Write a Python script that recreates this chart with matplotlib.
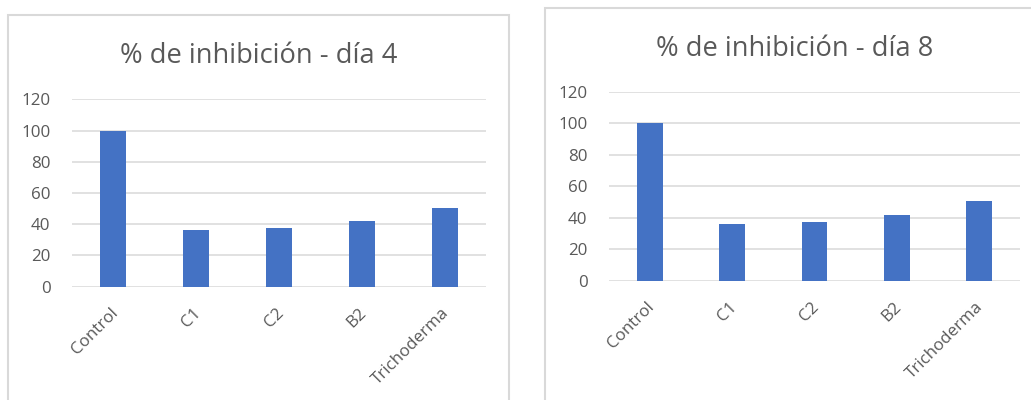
import matplotlib
matplotlib.use("Agg")
import matplotlib.pyplot as plt
from matplotlib.patches import Rectangle
from matplotlib.transforms import ScaledTranslation, blended_transform_factory

# Data
categories = ["Control", "C1", "C2", "B2", "Trichoderma"]
inhibition_day4 = [100, 36.2, 37.3, 41.9, 50.7]
inhibition_day8 = [100, 36.0, 37.2, 41.8, 50.7]
y_ticks = [0, 20, 40, 60, 80, 100, 120]
titles = ["% de inhibición - día 4", "% de inhibición - día 8"]

BAR_COLOR = "#4472C4"
TEXT_COLOR = "#595959"
GRID_COLOR = "#D9D9D9"
FONT = ["Open Sans", "DejaVu Sans"]

W, H = 1031, 400
fig = plt.figure(figsize=(W / 100, H / 100), dpi=100)
fig.patch.set_facecolor("white")


def px_rect(x0, y0, x1, y1):
    """Convert a pixel box (top-left origin) to figure fractions."""
    return [x0 / W, (H - y1) / H, (x1 - x0) / W, (y1 - y0) / H]


def draw_chart(box, axes_box, title_y, values, title):
    bx0, by0, bx1, by1 = box
    fig.patches.append(Rectangle((bx0 / W, (H - by1) / H), (bx1 - bx0) / W, (by1 - by0) / H,
                                 transform=fig.transFigure, fill=False,
                                 edgecolor=GRID_COLOR, linewidth=1.5))
    fig.text((bx0 + bx1) / 2 / W, (H - title_y) / H, title, ha="center", va="baseline",
             fontsize=19.6, color=TEXT_COLOR, family=FONT)

    ax = fig.add_axes(px_rect(*axes_box))
    x = list(range(len(categories)))
    ax.bar(x, values, width=0.313, color=BAR_COLOR, zorder=3)
    ax.set_xlim(-0.5, len(categories) - 0.5)
    ax.set_ylim(0, 120)
    ax.set_yticks(y_ticks)
    ax.set_yticklabels([str(t) for t in y_ticks], fontsize=12.2, color=TEXT_COLOR, family=FONT)
    ax.tick_params(axis="y", length=0, pad=15.5)
    ax.set_xticks([])
    ax.grid(axis="y", color=GRID_COLOR, linewidth=1.1, zorder=0)
    for s in ax.spines.values():
        s.set_visible(False)

    trans = blended_transform_factory(ax.transData, ax.transAxes) + \
        ScaledTranslation(2 / 100, -24 / 100, fig.dpi_scale_trans)
    for xi, lab in zip(x, categories):
        ax.text(xi, 0, lab, transform=trans, rotation=45, rotation_mode="anchor",
                ha="right", va="center", fontsize=12.2, color=TEXT_COLOR, family=FONT)
    return ax


draw_chart((8, 15, 509, 420), (72, 99.3, 486, 286.7), 63, inhibition_day4, titles[0])
draw_chart((545, 8, 1045, 420), (609, 91.7, 1020, 281), 56, inhibition_day8, titles[1])

fig.savefig("out.png", dpi=100, facecolor="white")
